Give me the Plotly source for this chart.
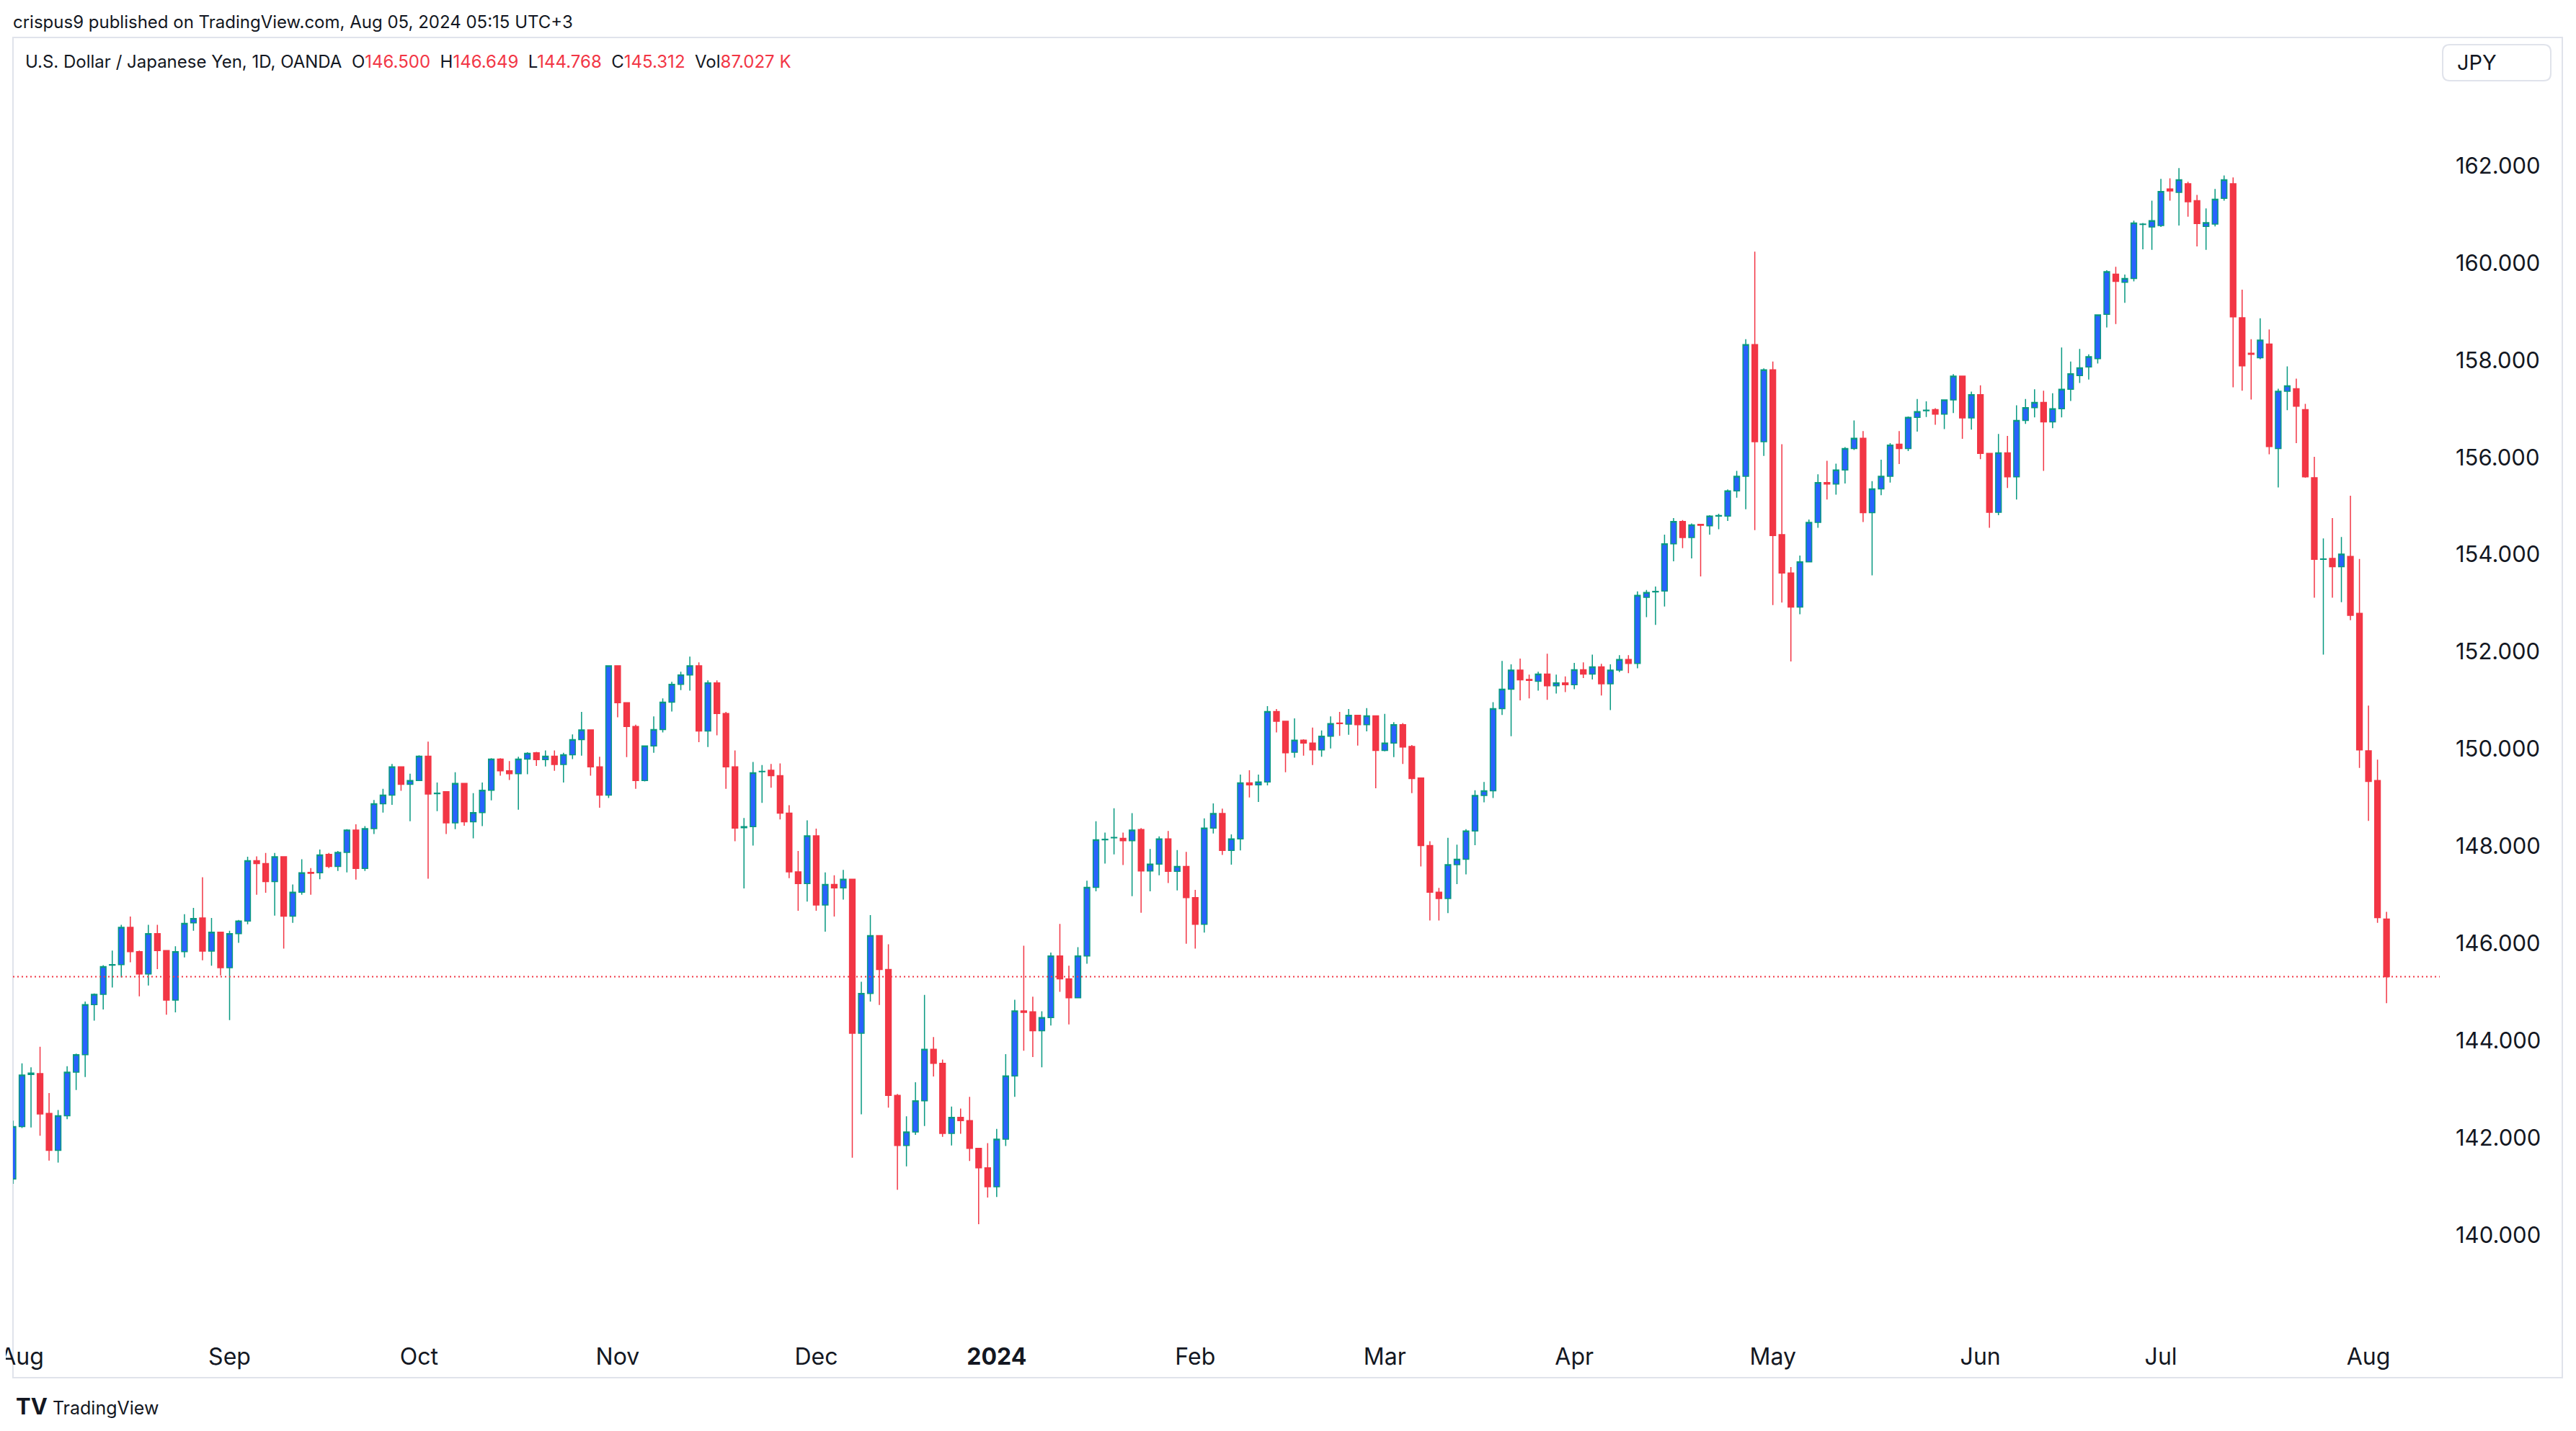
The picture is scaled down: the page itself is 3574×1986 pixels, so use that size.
import pandas as pd
import plotly.graph_objects as go

# USD/JPY daily bars (OANDA), Jul 31 2023 -> Aug 05 2024
opens = [
    141.15, 142.23, 143.30, 143.32, 142.50, 141.74, 142.45, 143.35, 143.71, 144.74,
    144.95, 145.55, 145.56, 146.33, 145.83, 145.37, 146.20, 145.85, 144.83, 145.83,
    146.42, 146.52, 145.84, 146.23, 145.50, 146.20, 146.46, 147.70, 147.64, 147.27,
    147.78, 146.56, 147.05, 147.46, 147.45, 147.83, 147.58, 147.87, 148.33, 147.54,
    148.36, 148.87, 149.05, 149.63, 149.27, 149.35, 149.85, 149.08, 149.12, 148.48,
    149.29, 148.50, 148.69, 149.15, 149.79, 149.55, 149.49, 149.79, 149.92, 149.78,
    149.85, 149.68, 149.88, 150.19, 150.39, 149.63, 149.05, 151.71, 150.95, 150.46,
    149.35, 150.06, 150.40, 150.96, 151.33, 151.52, 151.71, 150.37, 151.36, 150.73,
    149.63, 148.38, 148.40, 149.53, 149.56, 149.45, 148.68, 147.47, 147.23, 148.21,
    146.79, 147.21, 147.14, 147.32, 144.15, 144.97, 146.16, 145.46, 142.87, 141.84,
    142.12, 142.76, 143.82, 143.53, 142.09, 142.42, 142.35, 141.78, 141.38, 140.99,
    141.97, 143.27, 144.61, 144.59, 144.20, 144.47, 145.74, 145.27, 144.88, 145.74,
    147.15, 148.13, 148.17, 148.16, 148.11, 148.34, 147.49, 147.63, 148.15, 147.48,
    147.58, 146.94, 146.39, 148.37, 148.67, 147.91, 148.15, 149.30, 149.26, 149.32,
    150.77, 150.57, 149.93, 150.18, 150.12, 149.98, 150.26, 150.53, 150.51, 150.69,
    150.50, 150.68, 149.97, 150.12, 150.50, 150.05, 149.40, 148.01, 147.05, 146.92,
    147.62, 147.73, 148.31, 149.04, 149.14, 150.83, 151.23, 151.62, 151.43, 151.39,
    151.54, 151.30, 151.36, 151.32, 151.63, 151.54, 151.69, 151.34, 151.62, 151.84,
    151.76, 153.12, 153.23, 153.25, 154.22, 154.68, 154.35, 154.62, 154.59, 154.79,
    154.79, 155.31, 155.61, 158.32, 156.32, 157.80, 154.41, 153.62, 152.92, 153.85,
    154.66, 155.48, 155.45, 155.74, 156.18, 156.39, 154.86, 155.35, 155.61, 156.27,
    156.18, 156.82, 156.96, 156.98, 156.89, 157.18, 157.67, 156.81, 157.29, 156.08,
    154.87, 156.09, 155.60, 156.76, 157.02, 157.13, 156.73, 157.00, 157.40, 157.68,
    157.86, 158.03, 158.94, 159.77, 159.60, 159.68, 160.79, 160.74, 160.77, 161.52,
    161.45, 161.63, 161.28, 160.75, 160.80, 161.33, 161.63, 158.87, 158.14, 158.05,
    158.33, 156.18, 157.36, 157.41, 156.98, 155.58, 153.90, 153.92, 153.75, 153.96,
    152.79, 149.96, 149.35, 146.500,
]
highs = [
    142.35, 143.53, 143.45, 143.87, 142.92, 142.57, 143.47, 143.73, 144.80, 144.97,
    145.55, 145.85, 146.38, 146.55, 145.85, 146.38, 146.38, 145.86, 145.94, 146.60,
    146.73, 147.36, 146.52, 146.23, 146.26, 146.48, 147.78, 147.79, 147.86, 147.86,
    147.78, 147.21, 147.73, 147.55, 147.93, 147.86, 147.90, 148.35, 148.45, 148.41,
    148.95, 149.18, 149.69, 149.63, 149.49, 149.87, 150.15, 149.31, 149.12, 149.52,
    149.29, 149.09, 149.31, 149.81, 149.81, 149.75, 149.84, 149.93, 149.94, 149.97,
    149.97, 149.92, 150.30, 150.76, 150.40, 149.84, 151.72, 151.71, 150.95, 150.50,
    150.07, 150.67, 151.04, 151.38, 151.59, 151.90, 151.78, 151.41, 151.41, 150.76,
    149.97, 148.58, 149.73, 149.67, 149.69, 149.70, 148.84, 147.90, 148.53, 148.36,
    147.46, 147.40, 147.51, 147.33, 145.21, 146.58, 146.17, 145.98, 142.90, 142.44,
    143.14, 144.94, 144.07, 143.61, 142.64, 142.60, 142.84, 141.78, 141.89, 142.18,
    143.72, 144.84, 145.95, 144.90, 144.60, 145.81, 146.40, 145.54, 145.92, 147.29,
    148.51, 148.28, 148.78, 148.28, 148.68, 148.37, 147.94, 148.20, 148.31, 147.92,
    147.88, 147.10, 148.57, 148.88, 148.77, 148.24, 149.47, 149.56, 149.47, 150.88,
    150.82, 150.57, 150.63, 150.20, 150.44, 150.38, 150.67, 150.76, 150.82, 150.69,
    150.84, 150.68, 150.72, 150.55, 150.53, 150.08, 149.40, 148.10, 147.14, 148.17,
    148.03, 148.35, 149.15, 149.32, 150.96, 151.81, 151.74, 151.86, 151.53, 151.59,
    151.96, 151.53, 151.49, 151.77, 151.78, 151.94, 151.75, 151.74, 151.93, 151.93,
    153.24, 153.27, 153.34, 154.41, 154.75, 154.71, 154.64, 154.62, 154.81, 154.84,
    155.34, 155.72, 158.43, 160.23, 157.83, 157.97, 156.27, 153.74, 153.98, 154.72,
    155.65, 155.93, 155.87, 156.21, 156.76, 156.54, 155.51, 155.95, 156.29, 156.54,
    156.84, 157.20, 157.15, 157.01, 157.19, 157.71, 157.67, 157.35, 157.48, 156.08,
    156.48, 156.44, 157.07, 157.20, 157.40, 157.37, 157.32, 158.26, 157.97, 158.23,
    158.12, 158.94, 159.85, 159.92, 159.76, 160.87, 160.82, 161.28, 161.73, 161.74,
    161.95, 161.67, 161.40, 161.12, 161.52, 161.80, 161.76, 159.45, 158.43, 158.86,
    158.63, 157.41, 157.87, 157.62, 157.10, 156.01, 154.33, 154.75, 154.36, 155.21,
    153.91, 150.89, 149.78, 146.649,
]
lows = [
    141.05, 142.20, 142.21, 142.04, 141.53, 141.49, 142.38, 142.98, 143.25, 144.41,
    144.64, 145.09, 145.30, 145.61, 144.91, 145.13, 145.47, 144.53, 144.58, 145.71,
    146.26, 145.65, 145.54, 145.34, 144.42, 146.01, 146.39, 147.00, 147.04, 146.57,
    145.89, 146.42, 147.00, 147.00, 147.32, 147.55, 147.49, 147.46, 147.31, 147.49,
    148.25, 148.69, 148.85, 149.14, 148.51, 149.35, 147.33, 148.72, 148.25, 148.35,
    148.42, 148.16, 148.41, 148.94, 149.45, 149.36, 148.75, 149.48, 149.65, 149.64,
    149.55, 149.31, 149.79, 149.86, 149.45, 148.79, 148.99, 150.65, 149.83, 149.18,
    149.33, 149.92, 150.34, 150.77, 151.21, 151.20, 150.14, 150.04, 150.28, 149.18,
    148.10, 147.13, 148.01, 148.89, 149.20, 148.55, 147.34, 146.67, 146.86, 146.67,
    146.24, 146.55, 146.90, 141.59, 142.48, 144.80, 144.73, 142.62, 140.93, 141.41,
    142.06, 142.24, 143.26, 142.02, 141.84, 142.08, 141.52, 140.22, 140.77, 140.78,
    141.83, 142.84, 143.79, 143.66, 143.45, 144.31, 145.00, 144.33, 144.87, 145.58,
    147.07, 147.64, 147.83, 147.61, 146.97, 146.63, 147.07, 147.40, 147.24, 147.09,
    145.99, 145.89, 146.22, 148.26, 147.82, 147.62, 147.91, 149.00, 148.91, 149.25,
    150.34, 149.52, 149.82, 149.86, 149.67, 149.84, 150.01, 150.27, 150.29, 150.07,
    150.36, 149.19, 149.95, 149.83, 149.69, 149.09, 147.58, 146.47, 146.47, 146.62,
    147.22, 147.42, 148.02, 148.90, 148.99, 150.70, 150.26, 151.00, 151.04, 151.20,
    151.01, 151.14, 151.17, 151.23, 151.46, 151.43, 151.10, 150.80, 151.58, 151.56,
    151.66, 152.71, 152.55, 152.93, 153.86, 154.13, 153.92, 153.55, 154.41, 154.52,
    154.69, 155.17, 154.93, 154.50, 156.03, 152.96, 153.01, 151.80, 152.77, 153.84,
    154.55, 155.13, 155.23, 155.46, 156.15, 154.67, 153.57, 155.22, 155.48, 155.86,
    156.13, 156.53, 156.83, 156.67, 156.58, 156.91, 156.38, 156.57, 155.96, 154.55,
    154.81, 155.37, 155.13, 156.69, 156.82, 155.72, 156.60, 156.82, 157.16, 157.53,
    157.60, 157.93, 158.67, 158.74, 159.18, 159.62, 160.28, 160.27, 160.74, 161.28,
    160.77, 160.95, 160.34, 160.27, 160.75, 161.28, 157.44, 157.37, 157.19, 158.02,
    156.06, 155.38, 156.97, 156.29, 155.58, 153.11, 151.94, 153.11, 153.02, 152.65,
    149.61, 148.52, 146.42, 144.768,
]
closes = [
    142.23, 143.29, 143.33, 142.49, 141.74, 142.45, 143.35, 143.71, 144.74, 144.95,
    145.52, 145.56, 146.33, 145.83, 145.37, 146.20, 145.85, 144.83, 145.83, 146.41,
    146.51, 145.84, 146.23, 145.50, 146.20, 146.46, 147.70, 147.64, 147.27, 147.78,
    146.56, 147.05, 147.45, 147.44, 147.82, 147.58, 147.87, 148.33, 147.54, 148.36,
    148.87, 149.05, 149.63, 149.27, 149.35, 149.85, 149.07, 149.09, 148.48, 149.29,
    148.50, 148.69, 149.15, 149.79, 149.55, 149.49, 149.79, 149.91, 149.78, 149.85,
    149.68, 149.88, 150.19, 150.39, 149.63, 149.05, 151.71, 150.95, 150.46, 149.35,
    150.06, 150.40, 150.96, 151.33, 151.52, 151.71, 150.37, 151.36, 150.73, 149.63,
    148.37, 148.40, 149.51, 149.54, 149.45, 148.68, 147.47, 147.23, 148.21, 146.79,
    147.21, 147.14, 147.32, 144.15, 144.97, 146.16, 145.46, 142.87, 141.84, 142.12,
    142.76, 143.82, 143.53, 142.09, 142.42, 142.35, 141.78, 141.38, 140.99, 141.97,
    143.27, 144.61, 144.58, 144.20, 144.47, 145.74, 145.27, 144.88, 145.74, 147.15,
    148.13, 148.14, 148.18, 148.11, 148.33, 147.49, 147.63, 148.15, 147.48, 147.58,
    146.94, 146.39, 148.37, 148.67, 147.91, 148.15, 149.30, 149.26, 149.32, 150.77,
    150.57, 149.92, 150.18, 150.12, 149.98, 150.26, 150.52, 150.52, 150.69, 150.50,
    150.68, 149.97, 150.12, 150.50, 150.04, 149.39, 148.01, 147.05, 146.92, 147.62,
    147.73, 148.31, 149.04, 149.14, 150.83, 151.23, 151.62, 151.42, 151.41, 151.54,
    151.30, 151.36, 151.32, 151.63, 151.54, 151.69, 151.34, 151.62, 151.84, 151.76,
    153.16, 153.22, 153.24, 154.22, 154.68, 154.35, 154.61, 154.60, 154.79, 154.80,
    155.31, 155.61, 158.32, 156.32, 157.80, 154.39, 153.62, 152.92, 153.85, 154.66,
    155.48, 155.45, 155.74, 156.18, 156.39, 154.86, 155.35, 155.61, 156.25, 156.18,
    156.82, 156.94, 156.97, 156.89, 157.18, 157.67, 156.81, 157.29, 156.08, 154.87,
    156.09, 155.60, 156.76, 157.02, 157.13, 156.73, 157.00, 157.40, 157.72, 157.84,
    158.07, 158.93, 159.82, 159.62, 159.68, 160.82, 160.80, 160.87, 161.47, 161.48,
    161.71, 161.26, 160.81, 160.83, 161.31, 161.71, 158.89, 157.88, 158.12, 158.41,
    156.22, 157.36, 157.47, 157.05, 155.60, 153.90, 153.91, 153.75, 154.01, 152.75,
    149.98, 149.33, 146.53, 145.312,
]
last_volume = "87.027 K"

# OANDA has no daily bar on these two
holidays = ["2023-12-25", "2024-01-01"]
days = [d.strftime("%Y-%m-%d") for d in pd.bdate_range("2023-07-31", "2024-08-05")]
days = [d for d in days if d not in holidays]

month_ticks = ["2023-08-01", "2023-09-01", "2023-10-02", "2023-11-01", "2023-12-01",
               "2024-01-02", "2024-02-01", "2024-03-01", "2024-04-01", "2024-05-01",
               "2024-06-03", "2024-07-01", "2024-08-01"]
month_labels = ["Aug", "Sep", "Oct", "Nov", "Dec", "<b>2024</b>", "Feb", "Mar",
                "Apr", "May", "Jun", "Jul", "Aug"]
price_ticks = [140, 142, 144, 146, 148, 150, 152, 154, 156, 158, 160, 162]

UP_BODY = "#2962FF"
UP_LINE = "#089981"
DOWN = "#F23645"
TEXT = "#131722"
FRAME = "#E0E3EB"

# page is 3574x1986, the browser adds an 8px body margin round the figure
PAGE_W, PAGE_H, BODY = 3574, 1986, 8
W, H = PAGE_W - 2 * BODY, PAGE_H - 2 * BODY
PL, PR, PT, PB = 18, 3385, 55, 1845   # plot area in page pixels


def px(x):
    return (x - PL) / (PR - PL)


def py(y):
    return (PB - y) / (PB - PT)


def rounded_box(x0, y0, x1, y1, r):
    # rounded rectangle in paper units, corners given in page pixels
    rx, ry = r / (PR - PL), r / (PB - PT)
    a, b, c, d = px(x0), px(x1), py(y1), py(y0)
    return (f"M{a + rx},{c} L{b - rx},{c} Q{b},{c} {b},{c + ry} "
            f"L{b},{d - ry} Q{b},{d} {b - rx},{d} L{a + rx},{d} "
            f"Q{a},{d} {a},{d - ry} L{a},{c + ry} Q{a},{c} {a + rx},{c} Z")


fig = go.Figure()
fig.add_trace(go.Candlestick(
    x=days, open=opens, high=highs, low=lows, close=closes,
    increasing=dict(line=dict(color=UP_LINE, width=1.5), fillcolor=UP_BODY),
    decreasing=dict(line=dict(color=DOWN, width=1.5), fillcolor=DOWN),
    whiskerwidth=0, showlegend=False,
))

red = '<span style="color:%s">%s</span>' % (DOWN, "%s")
sp = "\u00a0\u00a0"
legend_text = ("U.S. Dollar / Japanese Yen, 1D, OANDA" + sp
               + "O" + red % f"{opens[-1]:.3f}" + sp
               + "H" + red % f"{highs[-1]:.3f}" + sp
               + "L" + red % f"{lows[-1]:.3f}" + sp
               + "C" + red % f"{closes[-1]:.3f}" + sp
               + "Vol" + red % last_volume)

annotations = [
    dict(text="crispus9 published on TradingView.com, Aug 05, 2024 05:15 UTC+3",
         x=px(16), y=py(30), xanchor="left", yanchor="middle",
         font=dict(size=24, color=TEXT)),
    dict(text=legend_text, x=px(33), y=py(85), xanchor="left", yanchor="middle",
         font=dict(size=24, color=TEXT)),
    dict(text="JPY", x=px(3436), y=py(87), xanchor="center", yanchor="middle",
         font=dict(size=29, color=TEXT)),
    dict(text='<span style="font-size:31px"><b>TV</b></span>\u00a0TradingView',
         x=px(20), y=py(1951), xanchor="left", yanchor="middle",
         font=dict(size=25, color=TEXT)),
]
for a in annotations:
    a.update(xref="paper", yref="paper", showarrow=False)

shapes = [
    # chart panel frame
    dict(type="rect", xref="paper", yref="paper",
         x0=px(PL), x1=px(3555), y0=py(1912), y1=py(52),
         line=dict(color=FRAME, width=2), layer="below"),
    # currency box
    dict(type="path", xref="paper", yref="paper",
         path=rounded_box(3389, 62, 3539, 112, 10),
         line=dict(color=FRAME, width=2)),
    # last price line
    dict(type="line", xref="paper", yref="y", x0=0, x1=1,
         y0=closes[-1], y1=closes[-1],
         line=dict(color=DOWN, width=2, dash="2px,4px"), layer="above"),
]

fig.update_layout(
    width=W, height=H,
    margin=dict(l=PL - BODY, r=W - (PR - BODY), t=PT - BODY, b=H - (PB - BODY)),
    paper_bgcolor="white", plot_bgcolor="white",
    font=dict(family="Inter, Roboto, sans-serif", color=TEXT),
    boxgap=0.38, boxgroupgap=0,
    annotations=annotations, shapes=shapes,
    xaxis=dict(type="category", range=[0, 268.9], tickvals=month_ticks,
               ticktext=month_labels, showgrid=False, zeroline=False,
               showline=False, ticks="", ticklabelstandoff=16,
               tickfont=dict(size=32, color=TEXT), automargin=False,
               rangeslider=dict(visible=False)),
    yaxis=dict(side="right", range=[138.056, 164.594], tickvals=price_ticks,
               tickformat=".3f", showgrid=False, zeroline=False, showline=False,
               ticks="", ticklabelstandoff=21, automargin=False,
               tickfont=dict(size=31, color=TEXT)),
)

fig.write_html("out.html")
